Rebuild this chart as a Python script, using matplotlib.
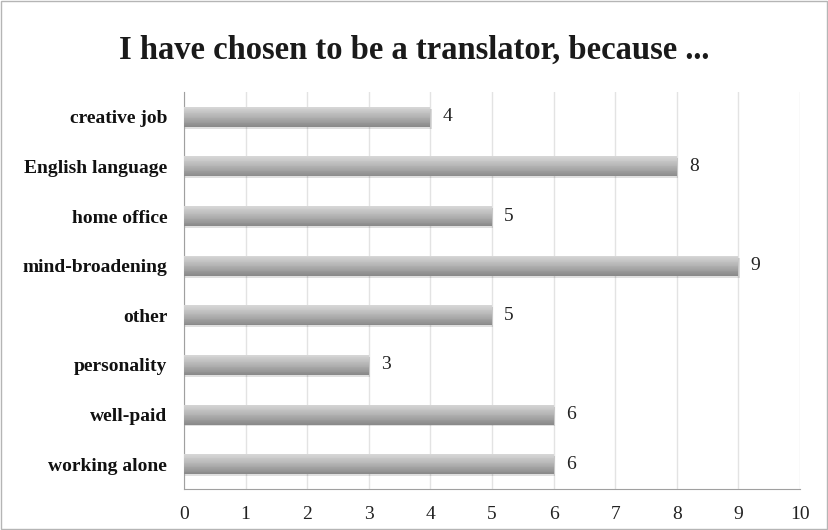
import numpy as np
import matplotlib.pyplot as plt
from matplotlib.colors import LinearSegmentedColormap

reasons = ["creative job", "English language", "home office", "mind-broadening",
           "other", "personality", "well-paid", "working alone"]
counts = [4, 8, 5, 9, 5, 3, 6, 6]
xticks = list(range(0, 11))

plt.rcParams['font.family'] = ['Liberation Serif', 'DejaVu Serif']

fig = plt.figure(figsize=(8.29, 5.30), dpi=100)
ax = fig.add_axes([184 / 829, 1 - 489 / 530, (800 - 184) / 829, (489 - 92) / 530])

ypos = np.arange(len(reasons))
bar_h = 0.4
n_strips = 24

# vertical shading for the bars: light on top, darker at the bottom
shade = LinearSegmentedColormap.from_list("shade", ["#d6d6d6", "#b2b2b2", "#8a8a8a"])
strip_h = bar_h / n_strips

for y, v in zip(ypos, counts):
    # soft drop shadow
    ax.barh(y + 0.04, v, height=bar_h, left=0.02, color="#000000", alpha=0.12, zorder=2)
    for i in range(n_strips):
        # y axis is inverted, so smaller y is higher on screen
        yc = y - bar_h / 2 + strip_h * (i + 0.5)
        ax.barh(yc, v, height=strip_h * 1.05, color=shade(i / (n_strips - 1)),
                linewidth=0, zorder=3)
    ax.text(v + 0.2, y, str(v), va="center", ha="left", fontsize=14, color="#222222")

ax.set_xlim(0, 10)
ax.set_ylim(len(reasons) - 0.5, -0.5)
ax.set_xticks(xticks)
ax.set_xticklabels([str(t) for t in xticks], fontsize=14, color="#222222")
ax.set_yticks(ypos)
ax.set_yticklabels(reasons, fontsize=14, fontweight="bold", color="#111111")
ax.tick_params(axis="x", length=0, pad=12)
ax.tick_params(axis="y", length=0, pad=12)
ax.grid(axis="x", color="#e3e3e3", linewidth=1, zorder=0)
ax.set_axisbelow(True)
for side in ["top", "right"]:
    ax.spines[side].set_visible(False)
ax.spines["left"].set_color("#a0a0a0")
ax.spines["bottom"].set_color("#a0a0a0")

fig.text(0.5, 1 - 50 / 530, "I have chosen to be a translator, because ...",
         ha="center", va="center", fontsize=23.5, fontweight="bold", color="#1a1a1a")

# thin frame around the whole chart
fig.patches.append(plt.Rectangle((0.001, 0.002), 0.997, 0.996, transform=fig.transFigure,
                                 fill=False, edgecolor="#b5b5b5", linewidth=1))

fig.savefig("out.png", dpi=100)
